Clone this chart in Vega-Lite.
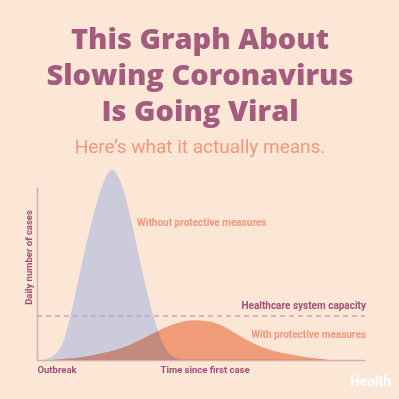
{
  "$schema": "https://vega.github.io/schema/vega-lite/v6.json",
  "width": 328,
  "height": 173,
  "autosize": {"type": "none"},
  "padding": {"left": 37, "top": 187, "right": 34, "bottom": 39},
  "background": "#fce7d6",
  "config": {"view": {"stroke": null}},
  "title": {
    "text": ["This Graph About", "Slowing Coronavirus", "Is Going Viral"],
    "subtitle": "Here’s what it actually means.",
    "anchor": "middle",
    "frame": "group",
    "font": "Open Sans",
    "fontWeight": 800,
    "fontSize": 29,
    "lineHeight": 36,
    "color": "#a45c7e",
    "subtitleFont": "Roboto",
    "subtitleFontSize": 19,
    "subtitleColor": "#f3977a",
    "subtitlePadding": 11,
    "offset": 12,
    "dx": -1
  },
  "datasets": {
    "blue": [
      {"t": 1.5, "cases": 0},
      {"t": 2.4, "cases": 0.3},
      {"t": 4.6, "cases": 1.5},
      {"t": 7.0, "cases": 5.8},
      {"t": 8.5, "cases": 12.5},
      {"t": 10.1, "cases": 24.5},
      {"t": 11.9, "cases": 40.0},
      {"t": 13.7, "cases": 56.0},
      {"t": 15.5, "cases": 71.0},
      {"t": 17.1, "cases": 83.0},
      {"t": 18.6, "cases": 93.5},
      {"t": 20.4, "cases": 103.5},
      {"t": 21.6, "cases": 108.5},
      {"t": 22.9, "cases": 111.0},
      {"t": 24.1, "cases": 108.5},
      {"t": 25.6, "cases": 103.0},
      {"t": 27.2, "cases": 93.0},
      {"t": 28.7, "cases": 81.0},
      {"t": 30.2, "cases": 68.0},
      {"t": 32.0, "cases": 52.0},
      {"t": 33.8, "cases": 37.0},
      {"t": 35.7, "cases": 23.5},
      {"t": 37.5, "cases": 13.5},
      {"t": 39.0, "cases": 7.0},
      {"t": 40.5, "cases": 3.0},
      {"t": 42.7, "cases": 0.6},
      {"t": 45.1, "cases": 0}
    ],
    "orange": [
      {"t": 2.4, "cases": 0},
      {"t": 7.0, "cases": 0.3},
      {"t": 14.0, "cases": 1.7},
      {"t": 19.2, "cases": 3.5},
      {"t": 24.4, "cases": 5.8},
      {"t": 29.3, "cases": 9.5},
      {"t": 32.9, "cases": 12.9},
      {"t": 36.6, "cases": 16.6},
      {"t": 40.5, "cases": 20.2},
      {"t": 44.5, "cases": 22.5},
      {"t": 48.8, "cases": 23.3},
      {"t": 53.7, "cases": 22.0},
      {"t": 57.3, "cases": 19.2},
      {"t": 60.4, "cases": 15.6},
      {"t": 64.9, "cases": 10.4},
      {"t": 70.1, "cases": 6.2},
      {"t": 75.0, "cases": 4.0},
      {"t": 80.2, "cases": 2.3},
      {"t": 84.8, "cases": 0.9},
      {"t": 89.3, "cases": 0}
    ]
  },
  "layer": [
    {
      "data": {"name": "blue"},
      "mark": {"type": "area", "interpolate": "basis", "color": "#cbcbdc", "clip": false},
      "encoding": {
        "x": {
          "field": "t",
          "type": "quantitative",
          "scale": {"domain": [0, 100], "nice": false},
          "axis": {
            "values": [0, 37.5],
            "labelExpr": "datum.value == 0 ? 'Outbreak' : 'Time since first case'",
            "labelAlign": "left",
            "labelBaseline": "top",
            "labelPadding": 4,
            "labelFont": "Roboto",
            "labelFontWeight": "bold",
            "labelFontSize": 9.5,
            "labelColor": "#a04f78",
            "labelFlush": false,
            "labelOverlap": false,
            "ticks": false,
            "grid": false,
            "title": null,
            "domainColor": "#d8abb9",
            "domainWidth": 1.5
          }
        },
        "y": {
          "field": "cases",
          "type": "quantitative",
          "scale": {"domain": [0, 100], "nice": false},
          "axis": {
            "title": "Daily number of cases",
            "labels": false,
            "ticks": false,
            "grid": false,
            "domainColor": "#d8abb9",
            "domainWidth": 1.5,
            "titleX": -9,
            "titleY": 70,
            "titleAngle": -90,
            "titleAlign": "center",
            "titleBaseline": "middle",
            "titleFont": "Roboto",
            "titleFontWeight": "bold",
            "titleFontSize": 9.5,
            "titleColor": "#a04f78"
          }
        }
      }
    },
    {
      "data": {"name": "orange"},
      "mark": {"type": "area", "interpolate": "basis", "color": "#f4ac90", "blend": "multiply", "clip": false},
      "encoding": {
        "x": {"field": "t", "type": "quantitative"},
        "y": {"field": "cases", "type": "quantitative"}
      }
    },
    {
      "data": {"values": [{}]},
      "mark": {"type": "rule", "color": "#c9a2b8", "strokeDash": [5, 4], "strokeWidth": 1.5},
      "encoding": {"x": {"datum": 0}, "x2": {"datum": 100}, "y": {"datum": 25.4}}
    },
    {
      "data": {"values": [{}]},
      "mark": {"type": "text", "text": "Without protective measures", "align": "left", "baseline": "middle", "font": "Roboto", "fontWeight": "bold", "fontSize": 10, "color": "#f3977a"},
      "encoding": {"x": {"datum": 30.5}, "y": {"datum": 79.2}}
    },
    {
      "data": {"values": [{}]},
      "mark": {"type": "text", "text": "Healthcare system capacity", "align": "right", "baseline": "middle", "font": "Roboto", "fontWeight": "bold", "fontSize": 10, "color": "#a04f78"},
      "encoding": {"x": {"datum": 100.3}, "y": {"datum": 31.2}}
    },
    {
      "data": {"values": [{}]},
      "mark": {"type": "text", "text": "With protective measures", "align": "right", "baseline": "middle", "font": "Roboto", "fontWeight": "bold", "fontSize": 10, "color": "#f3977a"},
      "encoding": {"x": {"datum": 100.3}, "y": {"datum": 14.5}}
    },
    {
      "data": {"values": [{}]},
      "mark": {"type": "text", "text": "Health", "align": "left", "baseline": "middle", "font": "Roboto", "fontWeight": "bold", "fontSize": 14, "color": "#ffffff"},
      "encoding": {"x": {"datum": 95.4}, "y": {"datum": -12.7}}
    }
  ]
}
